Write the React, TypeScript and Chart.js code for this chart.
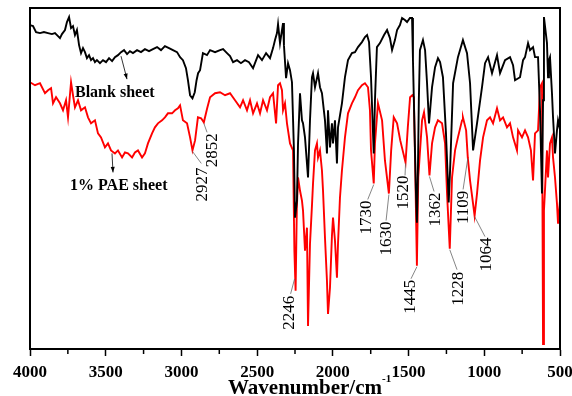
import React, { useEffect, useRef } from 'react';
import { Chart, registerables } from 'chart.js';

Chart.register(...registerables);

// ---- data (transmittance, arbitrary units) ----
const blankWavenumber = [
  4000, 3980, 3960, 3934, 3908, 3881, 3855, 3835, 3815, 3802, 3789, 3769, 3756, 3742, 3729, 3716, 3703, 3690, 3676, 3663,
  3650, 3637, 3624, 3610, 3597, 3584, 3571, 3558, 3538, 3518, 3498, 3478, 3458, 3439, 3419, 3399, 3379, 3359, 3340, 3320,
  3293, 3267, 3241, 3214, 3188, 3161, 3135, 3109, 3082, 3056, 3029, 3009, 2990, 2970, 2957, 2943, 2927, 2912, 2900, 2890,
  2877, 2858, 2831, 2811, 2778, 2745, 2725, 2699, 2679, 2659, 2633, 2607, 2580, 2554, 2527, 2494, 2468, 2441, 2415, 2395,
  2382, 2369, 2362, 2349, 2336, 2329, 2323, 2309, 2296, 2283, 2270, 2257, 2250, 2237, 2230, 2217, 2204, 2197, 2184, 2164,
  2151, 2138, 2131, 2118, 2098, 2085, 2072, 2052, 2039, 2032, 2019, 2006, 1999, 1986, 1973, 1966, 1953, 1940, 1920, 1900,
  1874, 1854, 1834, 1808, 1788, 1774, 1761, 1748, 1730, 1722, 1709, 1689, 1662, 1642, 1623, 1609, 1590, 1576, 1557, 1543,
  1524, 1510, 1491, 1477, 1471, 1452, 1445, 1438, 1432, 1425, 1405, 1391, 1378, 1365, 1345, 1325, 1306, 1292, 1273, 1253,
  1235, 1226, 1206, 1174, 1141, 1114, 1094, 1074, 1048, 1015, 995, 975, 949, 916, 896, 863, 830, 810, 797, 764,
  744, 731, 711, 698, 678, 665, 645, 632, 619, 612, 606, 586, 579, 573, 566, 553, 546, 533, 520, 513,
  506, 500,
];
const blankValue = [
  323, 322, 316, 315, 316, 315, 314, 315, 312, 310, 314, 318, 326, 331, 320, 322, 313, 318, 303, 295,
  300, 296, 290, 293, 288, 290, 286, 288, 285, 288, 286, 290, 287, 291, 293, 296, 298, 294, 297, 295,
  298, 296, 299, 297, 299, 301, 298, 302, 300, 298, 296, 291, 288, 280, 268, 253, 250, 256, 268, 275,
  278, 295, 293, 298, 296, 298, 299, 295, 292, 286, 288, 285, 288, 286, 280, 293, 288, 295, 290, 300,
  308, 315, 324, 305, 318, 325, 303, 270, 285, 278, 266, 198, 131, 148, 205, 255, 228, 225, 211, 171,
  228, 271, 275, 261, 275, 261, 255, 228, 195, 238, 201, 225, 205, 228, 185, 221, 233, 245, 271, 288,
  295, 296, 301, 306, 311, 313, 306, 271, 195, 248, 301, 305, 313, 318, 310, 298, 308, 318, 323, 330,
  328, 326, 330, 330, 288, 160, 126, 180, 250, 298, 308, 298, 265, 225, 261, 281, 290, 286, 271, 215,
  146, 178, 265, 291, 308, 295, 265, 198, 225, 261, 285, 291, 275, 293, 275, 288, 291, 283, 268, 271,
  288, 291, 305, 298, 301, 291, 291, 238, 155, 248, 331, 305, 271, 288, 291, 255, 231, 195, 218, 228,
  223, 230,
];

const paeWavenumber = [
  4000, 3967, 3934, 3901, 3881, 3861, 3848, 3828, 3802, 3782, 3762, 3749, 3729, 3716, 3703, 3683, 3663, 3637, 3617, 3597,
  3571, 3551, 3531, 3505, 3485, 3465, 3439, 3419, 3392, 3373, 3353, 3326, 3307, 3287, 3260, 3241, 3221, 3194, 3175, 3155,
  3128, 3109, 3089, 3062, 3042, 3023, 3009, 2990, 2963, 2943, 2927, 2910, 2891, 2870, 2852, 2830, 2811, 2778, 2745, 2712,
  2679, 2646, 2613, 2593, 2567, 2547, 2527, 2501, 2481, 2461, 2435, 2415, 2395, 2375, 2362, 2349, 2336, 2329, 2316, 2303,
  2296, 2283, 2263, 2254, 2246, 2238, 2230, 2217, 2204, 2197, 2184, 2171, 2164, 2151, 2138, 2131, 2118, 2105, 2098, 2085,
  2072, 2065, 2052, 2039, 2032, 2019, 2006, 1999, 1986, 1973, 1966, 1953, 1940, 1920, 1900, 1874, 1854, 1834, 1808, 1788,
  1768, 1755, 1748, 1730, 1722, 1702, 1675, 1656, 1630, 1615, 1598, 1576, 1555, 1520, 1505, 1490, 1475, 1465, 1455, 1445,
  1436, 1411, 1398, 1378, 1362, 1345, 1325, 1306, 1279, 1259, 1246, 1228, 1213, 1193, 1174, 1147, 1141, 1120, 1109, 1094,
  1081, 1064, 1048, 1028, 1008, 982, 962, 942, 916, 896, 876, 850, 830, 810, 784, 777, 751, 731, 711, 692,
  678, 665, 645, 632, 619, 612, 606, 586, 579, 566, 553, 546, 533, 520, 513, 500,
];
const paeValue = [
  266, 263, 265, 255, 258, 260, 245, 251, 245, 238, 248, 231, 266, 253, 241, 248, 238, 241, 231, 225,
  228, 215, 211, 201, 205, 198, 195, 198, 191, 196, 195, 191, 196, 198, 191, 195, 205, 215, 221, 225,
  228, 231, 235, 235, 238, 240, 243, 228, 225, 211, 198, 208, 231, 230, 226, 240, 251, 255, 256, 253,
  255, 248, 241, 248, 238, 248, 235, 245, 235, 248, 238, 251, 255, 225, 263, 265, 258, 238, 245, 225,
  218, 205, 198, 98, 58, 140, 171, 158, 148, 138, 98, 121, 23, 105, 143, 165, 198, 205, 191, 198,
  178, 158, 111, 68, 35, 61, 113, 131, 108, 71, 105, 151, 178, 211, 235, 245, 251, 258, 263, 265,
  261, 238, 198, 165, 205, 245, 228, 188, 155, 198, 231, 225, 208, 186, 221, 251, 253, 251, 171, 83,
  171, 228, 236, 211, 173, 205, 221, 228, 225, 205, 155, 100, 171, 198, 211, 228, 231, 218, 191, 168,
  153, 133, 155, 188, 211, 228, 231, 225, 240, 228, 231, 221, 225, 211, 198, 218, 211, 218, 211, 198,
  168, 215, 218, 261, 265, 5, 138, 198, 171, 205, 211, 191, 171, 145, 125, 148,
];

const seriesNames = ['Blank sheet', '1% PAE sheet'];
const seriesColors = ['#000000', '#ff0000'];
const peakWavenumbers = [2927, 2852, 2246, 1730, 1630, 1520, 1445, 1362, 1228, 1109, 1064];
const peakLabels = ['2927', '2852', '2246', '1730', '1630', '1520', '1445', '1362', '1228', '1109', '1064'];
const axisTitle = 'Wavenumber/cm';
const axisTitleSup = '-1';
const xMin = 500;
const xMax = 4000;
const majorStep = 500;
const minorStep = 250;
const blankArrowWavenumber = 3399;
const paeArrowWavenumber = 3465;

// ---- style / layout (pixel offsets) ----
const leaderStart = [[0, 1], [0, 1], [-1, -12], [0, 1], [0, 1], [0, 1], [0, 1], [0, 1], [0, 1], [0, 1], [0, 1]];
const leaderEnd = [[8.8, 13], [3.2, 10], [-5, 3], [-6, 16], [-2.8, 27], [-0.5, 13], [-5.9, 13], [4.6, 16], [7.3, 21], [-4.7, 32], [10.4, 21]];
const labelCenter = [[9.8, 34], [8.2, 28], [-6, 22], [-7, 34], [-2.8, 45], [-2.5, 30], [-5.9, 31], [5.6, 34], [8.3, 40], [-4.7, 50], [12.4, 39]];

const SERIF = '"Liberation Serif", "Times New Roman", Times, serif';

function arrow(ctx: CanvasRenderingContext2D, x1: number, y1: number, x2: number, y2: number) {
  ctx.beginPath();
  ctx.moveTo(x1, y1);
  ctx.lineTo(x2, y2);
  ctx.stroke();
  const ang = Math.atan2(y2 - y1, x2 - x1);
  const len = 6;
  ctx.beginPath();
  ctx.moveTo(x2, y2);
  ctx.lineTo(x2 - len * Math.cos(ang - 0.35), y2 - len * Math.sin(ang - 0.35));
  ctx.lineTo(x2 - len * Math.cos(ang + 0.35), y2 - len * Math.sin(ang + 0.35));
  ctx.closePath();
  ctx.fill();
}

const overlayPlugin = {
  id: 'overlay',
  afterDraw(chart: any) {
    const { ctx, chartArea: a, scales } = chart;
    const x = scales.x;
    const y = scales.y;
    ctx.save();
    // frame
    ctx.strokeStyle = '#000';
    ctx.lineWidth = 2;
    ctx.strokeRect(a.left, a.top, a.right - a.left, a.bottom - a.top);
    // minor ticks
    ctx.lineWidth = 1.5;
    for (let v = xMin + minorStep; v < xMax; v += majorStep) {
      const px = x.getPixelForValue(v);
      ctx.beginPath();
      ctx.moveTo(px, a.bottom);
      ctx.lineTo(px, a.bottom + 5);
      ctx.stroke();
    }
    // peak labels
    peakWavenumbers.forEach((wn, i) => {
      const idx = paeWavenumber.indexOf(wn);
      const px = x.getPixelForValue(wn);
      const py = y.getPixelForValue(paeValue[idx]);
      ctx.strokeStyle = '#666';
      ctx.lineWidth = 0.8;
      ctx.beginPath();
      ctx.moveTo(px + leaderStart[i][0], py + leaderStart[i][1]);
      ctx.lineTo(px + leaderEnd[i][0], py + leaderEnd[i][1]);
      ctx.stroke();
      ctx.save();
      ctx.translate(px + labelCenter[i][0], py + labelCenter[i][1]);
      ctx.rotate(-Math.PI / 2);
      ctx.fillStyle = '#000';
      ctx.font = `17px ${SERIF}`;
      ctx.textAlign = 'center';
      ctx.textBaseline = 'middle';
      ctx.fillText(peakLabels[i], 0, 0);
      ctx.restore();
    });
    // series labels with arrows
    ctx.fillStyle = '#000';
    ctx.strokeStyle = '#000';
    ctx.lineWidth = 0.8;
    const bIdx = blankWavenumber.indexOf(blankArrowWavenumber);
    const bx = x.getPixelForValue(blankArrowWavenumber);
    const by = y.getPixelForValue(blankValue[bIdx]);
    arrow(ctx, bx, by + 4, bx + 6, by + 27);
    const pIdx = paeWavenumber.indexOf(paeArrowWavenumber);
    const ppx = x.getPixelForValue(paeArrowWavenumber);
    const ppy = y.getPixelForValue(paeValue[pIdx]);
    arrow(ctx, ppx + 1, ppy + 3, ppx + 2, ppy + 22);
    ctx.font = `bold 16px ${SERIF}`;
    ctx.textAlign = 'left';
    ctx.textBaseline = 'alphabetic';
    ctx.fillText(seriesNames[0], 75, 97);
    ctx.fillText(seriesNames[1], 70, 190);
    // axis title with superscript
    ctx.font = `bold 21px ${SERIF}`;
    ctx.fillText(axisTitle, 228, 394);
    const w = ctx.measureText(axisTitle).width;
    ctx.font = `bold 11px ${SERIF}`;
    ctx.fillText(axisTitleSup, 228 + w, 382);
    ctx.restore();
  },
};

export default function App() {
  const canvasRef = useRef<HTMLCanvasElement | null>(null);
  useEffect(() => {
    const canvas = canvasRef.current;
    if (!canvas) return;
    const blankData = blankWavenumber.map((wn, i) => ({ x: wn, y: blankValue[i] }));
    const paeData = paeWavenumber.map((wn, i) => ({ x: wn, y: paeValue[i] }));
    const chart = new Chart(canvas, {
      type: 'line',
      data: {
        datasets: [
          { label: seriesNames[0], data: blankData, borderColor: seriesColors[0], borderWidth: 1.9, pointRadius: 0, tension: 0, fill: false },
          { label: seriesNames[1], data: paeData, borderColor: seriesColors[1], borderWidth: 1.9, pointRadius: 0, tension: 0, fill: false },
        ],
      },
      options: {
        animation: false,
        responsive: false,
        devicePixelRatio: 1,
        layout: { padding: { left: 30, right: 12, top: 8, bottom: 0 } },
        plugins: { legend: { display: false }, tooltip: { enabled: false }, title: { display: false } },
        scales: {
          x: {
            type: 'linear',
            reverse: true,
            min: xMin,
            max: xMax,
            border: { display: true, color: '#000', width: 2 },
            grid: {
              display: true,
              drawOnChartArea: false,
              drawTicks: true,
              tickLength: 7,
              tickWidth: 1.5,
              tickColor: (c: any) => (c.tick && c.tick.value % majorStep === 0 ? '#000' : 'rgba(0,0,0,0)'),
            },
            ticks: {
              stepSize: minorStep,
              autoSkip: false,
              maxRotation: 0,
              padding: 6,
              color: '#000',
              font: { family: SERIF, size: 17, weight: 'bold' },
              callback: (v: any) => (Number(v) % majorStep === 0 ? String(v) : ''),
            },
            afterFit: (s: any) => {
              s.height = 47;
              s.paddingLeft = 0;
              s.paddingRight = 0;
            },
          },
          y: { type: 'linear', display: false, min: 0, max: 340 },
        },
      },
      plugins: [overlayPlugin],
    } as any);
    return () => chart.destroy();
  }, []);
  return (
    <div style={{ position: 'absolute', left: 0, top: 0, width: 572, height: 396, background: '#fff' }}>
      <canvas ref={canvasRef} width={572} height={396} style={{ display: 'block' }} />
    </div>
  );
}
